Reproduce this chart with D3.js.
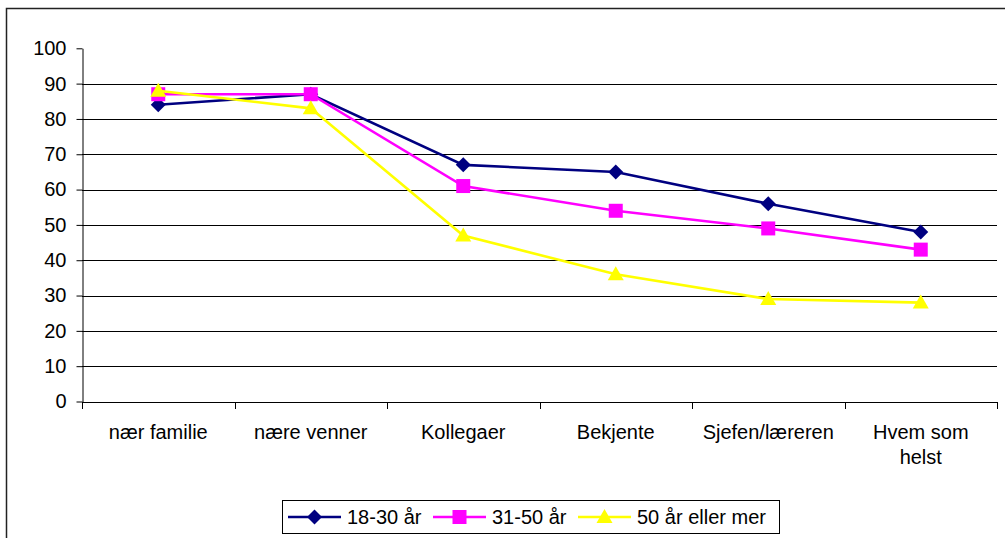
<!DOCTYPE html>
<html><head><meta charset="utf-8">
<script src="https://cdn.jsdelivr.net/npm/d3@7"></script>
<style>html,body{margin:0;padding:0;background:#fff;}svg{display:block;font-family:"Liberation Sans",Arial,sans-serif;}</style>
</head><body>
<svg id="c" width="1005" height="538"></svg>
<script>
const categories = ["nær familie","nære venner","Kollegaer","Bekjente","Sjefen/læreren","Hvem som helst"];
const seriesNames = ["18-30 år","31-50 år","50 år eller mer"];
const s1830 = [84,87,67,65,56,48];
const s3150 = [87,87,61,54,49,43];
const s50 = [88,83,47,36,29,28];
const yTicks = [0,10,20,30,40,50,60,70,80,90,100];

const colors = ["#000080","#FF00FF","#FFFF00"];
const shapes = ["diamond","square","triangle"];
const series = [s1830,s3150,s50];

const svg = d3.select("#c");
const L=82,R=997,T=48.3,B=401.5;
const x = d3.scaleBand().domain(categories).range([L,R]);
const y = d3.scaleLinear().domain([0,100]).range([B,T]);
const fs = 20;

// outer border
svg.append("rect").attr("x",6.5).attr("y",8.5).attr("width",1010).attr("height",540)
  .attr("fill","none").attr("stroke","#222").attr("stroke-width",1.5);

// gridlines
svg.append("g").selectAll("line").data(yTicks.filter(d=>d>0&&d<100)).join("line")
  .attr("x1",L).attr("x2",R).attr("y1",d=>Math.round(y(d))+0.5).attr("y2",d=>Math.round(y(d))+0.5)
  .attr("stroke","#000").attr("stroke-width",1);

// y axis
const yAx = svg.append("g").attr("transform",`translate(${L+0.5},0)`)
  .call(d3.axisLeft(y).tickValues(yTicks).tickSize(6).tickPadding(10).tickSizeOuter(0));
yAx.select(".domain").attr("stroke","#000");
yAx.selectAll(".tick line").attr("stroke","#000");
yAx.selectAll(".tick text").attr("font-size",fs).attr("fill","#000").attr("font-family","Liberation Sans, Arial, sans-serif");

// x axis
const xAx = svg.append("g").attr("transform",`translate(0,${Math.round(B)+0.5})`)
  .call(d3.axisBottom(x).tickSize(0).tickPadding(22));
xAx.select(".domain").attr("stroke","#000").attr("d",`M${L},0H${R}`);
xAx.selectAll(".tick text").attr("font-size",fs).attr("fill","#000").attr("font-family","Liberation Sans, Arial, sans-serif");
// band boundary ticks
const bounds = categories.map(c=>x(c)).concat([x(categories[categories.length-1])+x.bandwidth()]);
svg.append("g").selectAll("line").data(bounds).join("line")
  .attr("x1",d=>Math.round(d)+0.5).attr("x2",d=>Math.round(d)+0.5)
  .attr("y1",Math.round(B)).attr("y2",Math.round(B)+7).attr("stroke","#000");

// wrap long labels
xAx.selectAll(".tick text").each(function(d){
  const t = d3.select(this);
  const words = d.split(" ");
  const lines=[]; let cur=[];
  words.forEach(w=>{
    cur.push(w);
    t.text(cur.join(" "));
    if(this.getComputedTextLength()>135 && cur.length>1){cur.pop();lines.push(cur.join(" "));cur=[w];}
  });
  lines.push(cur.join(" "));
  t.text(null);
  lines.forEach((ln,i)=>t.append("tspan").attr("x",0).attr("dy",i===0?"0.71em":"1.25em").text(ln));
});

function drawMarker(g,shape,cx,cy,color){
  if(shape==="diamond"){
    g.append("path").attr("d",`M${cx},${cy-7.5}L${cx+7.5},${cy}L${cx},${cy+7.5}L${cx-7.5},${cy}Z`).attr("fill",color);
  } else if(shape==="square"){
    g.append("rect").attr("x",cx-7).attr("y",cy-7).attr("width",14).attr("height",14).attr("fill",color);
  } else {
    g.append("path").attr("d",`M${cx},${cy-8}L${cx+8},${cy+6}L${cx-8},${cy+6}Z`).attr("fill",color);
  }
}

const line = d3.line().x((d,i)=>x(categories[i])+x.bandwidth()/2).y(d=>y(d));
series.forEach((s,k)=>{
  const g = svg.append("g");
  g.append("path").datum(s).attr("d",line).attr("fill","none").attr("stroke",colors[k]).attr("stroke-width",2.6);
  s.forEach((v,i)=>drawMarker(g,shapes[k],x(categories[i])+x.bandwidth()/2,y(v),colors[k]));
});

// legend
const lg = svg.append("g");
lg.append("rect").attr("x",282.5).attr("y",500.5).attr("width",497).attr("height",33)
  .attr("fill","#fff").attr("stroke","#000").attr("stroke-width",1);
const lgX = [288,433,578];
const ly = 517;
seriesNames.forEach((n,k)=>{
  const x0 = lgX[k];
  lg.append("line").attr("x1",x0).attr("x2",x0+53).attr("y1",ly).attr("y2",ly).attr("stroke",colors[k]).attr("stroke-width",2.6);
  drawMarker(lg,shapes[k],x0+26.5,ly,colors[k]);
  lg.append("text").attr("x",x0+59).attr("y",ly).attr("dy","0.35em").attr("font-size",fs).attr("fill","#000").text(n);
});
</script>
</body></html>
